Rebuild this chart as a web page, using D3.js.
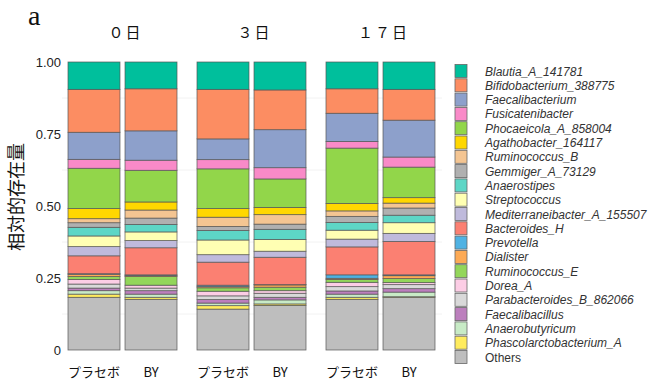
<!DOCTYPE html>
<html>
<head>
<meta charset="utf-8">
<script src="https://cdn.jsdelivr.net/npm/d3@7"></script>
<style>
  body { margin: 0; background: #fff; }
  text { font-family: "Liberation Sans", Arial, sans-serif; }
  .jp { font-family: "Noto Sans CJK JP", sans-serif; }
</style>
</head>
<body>
<div id="chart"></div>
<script>
// legend order, top to bottom
var taxa = ["Blautia_A_141781", "Bifidobacterium_388775", "Faecalibacterium", "Fusicatenibacter",
  "Phocaeicola_A_858004", "Agathobacter_164117", "Ruminococcus_B", "Gemmiger_A_73129",
  "Anaerostipes", "Streptococcus", "Mediterraneibacter_A_155507", "Bacteroides_H",
  "Prevotella", "Dialister", "Ruminococcus_E", "Dorea_A", "Parabacteroides_B_862066",
  "Faecalibacillus", "Anaerobutyricum", "Phascolarctobacterium_A", "Others"];

var colors = ["#00bf9c", "#fc8d62", "#8da0cb", "#f98ac8", "#92d64a", "#ffd700", "#f4c592",
  "#b0b0b0", "#5dd6c6", "#ffffb3", "#bfbadc", "#fb8072", "#4fb2e3", "#fdaa55",
  "#93d65a", "#fccde5", "#d9d9d9", "#bc7fbd", "#c8ebc6", "#ffec5e", "#bebebe"];

var days = ["０日", "３日", "１７日"];
var arms = ["プラセボ", "BY"];

// relative abundance per sample, same order as taxa
var day0_placebo  = [0.095, 0.149, 0.094, 0.031, 0.140, 0.035, 0.014, 0.016, 0.030, 0.037, 0.032, 0.062, 0.002, 0.008, 0.010, 0.016, 0.014, 0.009, 0.012, 0.011, 0.183];
var day0_by       = [0.093, 0.146, 0.102, 0.035, 0.110, 0.028, 0.028, 0.022, 0.026, 0.030, 0.025, 0.094, 0.002, 0.004, 0.030, 0.010, 0.009, 0.012, 0.011, 0.007, 0.176];
var day3_placebo  = [0.095, 0.172, 0.072, 0.032, 0.138, 0.030, 0.032, 0.014, 0.033, 0.051, 0.026, 0.080, 0.005, 0.004, 0.012, 0.016, 0.013, 0.012, 0.009, 0.012, 0.142];
var day3_by       = [0.097, 0.138, 0.132, 0.039, 0.099, 0.025, 0.033, 0.018, 0.035, 0.041, 0.021, 0.095, 0.001, 0.008, 0.012, 0.009, 0.014, 0.009, 0.014, 0.005, 0.155];
var day17_placebo = [0.093, 0.085, 0.098, 0.023, 0.192, 0.026, 0.019, 0.021, 0.027, 0.031, 0.027, 0.097, 0.012, 0.004, 0.010, 0.015, 0.015, 0.011, 0.011, 0.007, 0.176];
var day17_by      = [0.095, 0.107, 0.128, 0.035, 0.106, 0.019, 0.017, 0.025, 0.026, 0.037, 0.028, 0.116, 0.003, 0.010, 0.014, 0.007, 0.014, 0.012, 0.016, 0.002, 0.183];

var samples = [
  {day: 0, arm: 0, values: day0_placebo},
  {day: 0, arm: 1, values: day0_by},
  {day: 1, arm: 0, values: day3_placebo},
  {day: 1, arm: 1, values: day3_by},
  {day: 2, arm: 0, values: day17_placebo},
  {day: 2, arm: 1, values: day17_by}
];

var yTicks = [0, 0.25, 0.5, 0.75, 1];

var width = 650, height = 385;
var svg = d3.select("#chart").append("svg")
  .attr("width", width)
  .attr("height", height);

var y = d3.scaleLinear().domain([0, 1]).range([350, 62]);
var xDay = d3.scaleBand().domain(days).range([68, 435]).paddingInner(0.155).paddingOuter(0);
var xArm = d3.scaleBand().domain(arms).range([0, xDay.bandwidth()]).paddingInner(0.088);

// table for the stack: one row per sample, keyed by taxon
var rows = samples.map(function(s) {
  var r = {day: days[s.day], arm: arms[s.arm]};
  taxa.forEach(function(t, i) { r[t] = s.values[i]; });
  return r;
});
var stack = d3.stack().keys(taxa.slice().reverse());
var series = stack(rows);
var color = d3.scaleOrdinal().domain(taxa).range(colors);

// faint minor gridlines
svg.append("g").selectAll("line")
  .data([0.125, 0.375, 0.625, 0.875])
  .enter().append("line")
  .attr("x1", 62).attr("x2", 442)
  .attr("y1", function(d) { return y(d); })
  .attr("y2", function(d) { return y(d); })
  .attr("stroke", "#f2f2f2");

svg.append("g").selectAll("g")
  .data(series)
  .enter().append("g")
  .attr("fill", function(d) { return color(d.key); })
  .selectAll("rect")
  .data(function(d) { return d; })
  .enter().append("rect")
  .attr("x", function(d) { return xDay(d.data.day) + xArm(d.data.arm); })
  .attr("width", xArm.bandwidth())
  .attr("y", function(d) { return y(d[1]); })
  .attr("height", function(d) { return y(d[0]) - y(d[1]); })
  .attr("stroke", "#555")
  .attr("stroke-opacity", 0.85)
  .attr("stroke-width", 0.8);

// y axis (labels only)
var yAxis = d3.axisLeft(y).tickValues(yTicks).tickSize(0).tickPadding(0)
  .tickFormat(function(d) { return d === 0 ? "0" : d3.format(".2f")(d); });
var ya = svg.append("g")
  .attr("transform", "translate(61,0)")
  .call(yAxis);
ya.select(".domain").remove();
ya.selectAll("text").attr("font-size", 13).attr("fill", "#222")
  .style("font-family", "'Liberation Sans', Arial, sans-serif");

svg.append("text")
  .attr("class", "jp")
  .attr("transform", "translate(23,197) rotate(-90)")
  .attr("text-anchor", "middle")
  .attr("font-size", 18)
  .attr("fill", "#111")
  .text("相対的存在量");

// x labels
svg.append("g").selectAll("text")
  .data(rows)
  .enter().append("text")
  .attr("class", "jp")
  .attr("x", function(d) { return xDay(d.day) + xArm(d.arm) + xArm.bandwidth() / 2; })
  .attr("y", 377)
  .attr("text-anchor", "middle")
  .attr("font-size", 13)
  .attr("fill", "#111")
  .text(function(d) { return d.arm; });

// day titles
svg.append("g").selectAll("text")
  .data(days)
  .enter().append("text")
  .attr("class", "jp")
  .attr("x", function(d) { return xDay(d) + xDay.bandwidth() / 2 + 3; })
  .attr("y", 38)
  .attr("text-anchor", "middle")
  .attr("font-size", 15)
  .attr("letter-spacing", 2)
  .attr("fill", "#111")
  .text(function(d) { return d; });

svg.append("text")
  .attr("x", 28).attr("y", 25)
  .attr("font-size", 28)
  .style("font-family", "'Liberation Serif', 'Times New Roman', serif")
  .attr("fill", "#111")
  .text("a");

// legend
var ly = d3.scalePoint().domain(taxa).range([71, 357]);
var lg = svg.append("g").selectAll("g")
  .data(taxa)
  .enter().append("g")
  .attr("transform", function(d) { return "translate(455," + ly(d) + ")"; });
lg.append("rect")
  .attr("x", 0).attr("y", -6.5)
  .attr("width", 12).attr("height", 13)
  .attr("fill", function(d) { return color(d); })
  .attr("stroke", "#666")
  .attr("stroke-width", 0.8);
lg.append("text")
  .attr("x", 30).attr("y", 4.5)
  .attr("font-size", 12)
  .attr("font-style", function(d) { return d === "Others" ? "normal" : "italic"; })
  .attr("fill", "#333")
  .text(function(d) { return d; });
</script>
</body>
</html>
